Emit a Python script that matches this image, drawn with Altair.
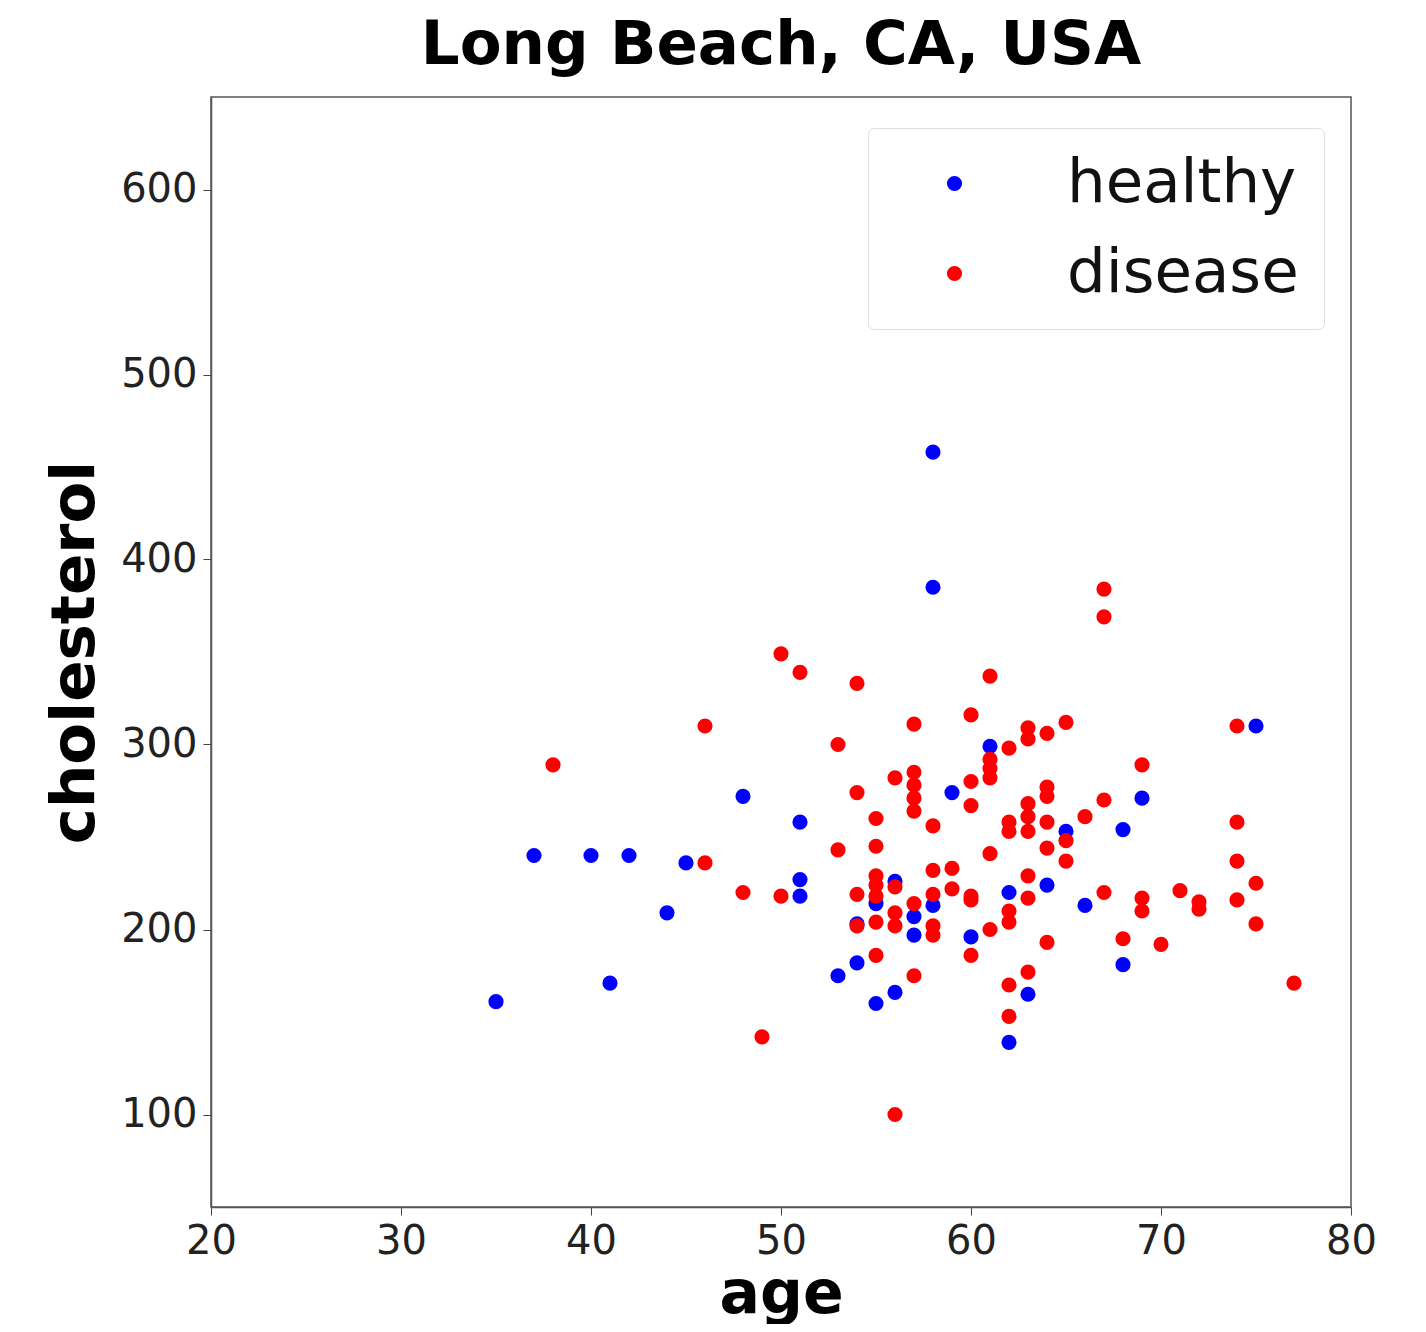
import altair as alt
import pandas as pd

groups = ["healthy", "disease"]
colors = ["#0000ff", "#ff0000"]

healthy_age = [35, 37, 40, 42, 41, 44, 45, 48, 51, 51, 51, 53, 54, 54, 55, 55, 56, 56,
               57, 57, 58, 58, 58, 59, 60, 61, 62, 62, 63, 64, 65, 66, 68, 68, 69, 75]
healthy_chol = [161, 240, 240, 240, 171, 209, 236, 272, 258, 227, 218, 175, 182, 203, 160, 214, 166, 226,
                207, 197, 458, 385, 213, 274, 196, 299, 220, 139, 165, 224, 253, 213, 254, 181, 271, 310]

disease_age = [38, 46, 46, 48, 49, 50, 50, 51, 53, 53, 54, 54, 54, 54,
               55, 55, 55, 55, 55, 55, 55, 56, 56, 56, 56, 56,
               57, 57, 57, 57, 57, 57, 57, 58, 58, 58, 58, 58, 59, 59,
               60, 60, 60, 60, 60, 60, 61, 61, 61, 61, 61, 61,
               62, 62, 62, 62, 62, 62, 62, 63, 63, 63, 63, 63, 63, 63, 63,
               64, 64, 64, 64, 64, 64, 65, 65, 65, 66, 67, 67, 67, 67,
               68, 69, 69, 69, 70, 71, 72, 72, 74, 74, 74, 74, 75, 75, 77]
disease_chol = [289, 310, 236, 220, 142, 349, 218, 339, 300, 243, 333, 274, 219, 202,
                260, 245, 229, 224, 218, 204, 186, 282, 223, 209, 202, 100,
                311, 285, 278, 271, 264, 214, 175, 256, 232, 219, 202, 197, 233, 222,
                316, 280, 267, 218, 216, 186, 337, 292, 287, 282, 241, 200,
                298, 258, 253, 210, 204, 170, 153, 309, 303, 268, 261, 253, 229, 217, 177,
                306, 277, 272, 258, 244, 193, 312, 248, 237, 261, 384, 369, 270, 220,
                195, 289, 217, 210, 192, 221, 215, 211, 310, 258, 237, 216, 225, 203, 171]

x_ticks = [20, 30, 40, 50, 60, 70, 80]
y_ticks = [100, 200, 300, 400, 500, 600]

df = pd.concat([
    pd.DataFrame({"age": healthy_age, "cholesterol": healthy_chol, "group": groups[0]}),
    pd.DataFrame({"age": disease_age, "cholesterol": disease_chol, "group": groups[1]}),
], ignore_index=True)

FONT = "DejaVu Sans"

chart = alt.Chart(df).mark_circle(size=230, opacity=1).encode(
    x=alt.X("age:Q",
            scale=alt.Scale(domain=[20, 80], nice=False, zero=False),
            axis=alt.Axis(values=x_ticks, title="age", grid=False, format="d",
                          labelFontSize=40, labelFont=FONT, labelColor="#222",
                          labelFlush=False, labelOverlap=False,
                          labelPadding=6, tickSize=8, tickColor="#444",
                          domainColor="#555", domainWidth=1.5,
                          titleFont=FONT, titleFontSize=60, titleFontWeight="bold",
                          titleColor="#000", titlePadding=4)),
    y=alt.Y("cholesterol:Q",
            scale=alt.Scale(domain=[50, 650], nice=False, zero=False),
            axis=alt.Axis(values=y_ticks, title="cholesterol", grid=False, format="d",
                          labelFontSize=40, labelFont=FONT, labelColor="#222",
                          labelFlush=False, labelOverlap=False,
                          labelPadding=6, tickSize=8, tickColor="#444",
                          domainColor="#555", domainWidth=1.5,
                          titleFont=FONT, titleFontSize=61, titleFontWeight="bold",
                          titleColor="#000", titlePadding=14)),
    color=alt.Color("group:N",
                    scale=alt.Scale(domain=groups, range=colors),
                    legend=alt.Legend(title=None, orient="none", legendX=657, legendY=31,
                                      labelFontSize=61, labelFont=FONT, labelColor="#111",
                                      labelLimit=0,
                                      symbolSize=230, symbolType="circle",
                                      symbolOffset=31, labelOffset=82,
                                      padding=25, rowPadding=28,
                                      fillColor="#ffffff", strokeColor="#dddddd",
                                      cornerRadius=6)),
).properties(
    width=1140,
    height=1110,
    title=alt.Title("Long Beach, CA, USA", font=FONT, fontSize=61, fontWeight="bold",
                    color="#000", anchor="middle", offset=20),
    autosize=alt.AutoSizeParams(type="none"),
    padding={"left": 203, "top": 89, "right": 60, "bottom": 117},
).configure_view(stroke="#555", strokeWidth=1.5)

chart.save("out.html", embed_options={"renderer": "svg", "actions": False})
